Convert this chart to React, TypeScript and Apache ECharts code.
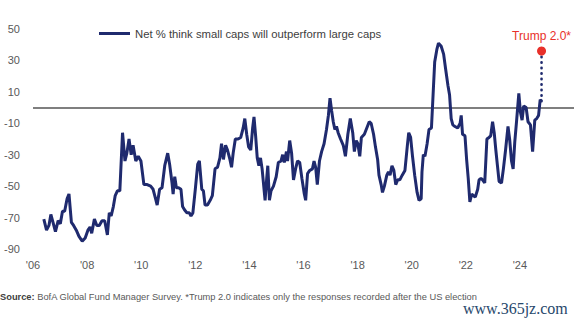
import React, { useEffect, useRef } from "react";
import * as echarts from "echarts";

const seriesName = "Net % think small caps will outperform large caps";

const years = [
  2006.40, 2006.50, 2006.59, 2006.66, 2006.74, 2006.83, 2006.93, 2007.01, 2007.09, 2007.17,
  2007.26, 2007.33, 2007.42, 2007.50, 2007.60, 2007.70, 2007.82, 2007.93, 2008.03, 2008.11,
  2008.17, 2008.27, 2008.36, 2008.45, 2008.55, 2008.65, 2008.75, 2008.82, 2008.89, 2008.97,
  2009.04, 2009.12, 2009.21, 2009.31, 2009.40, 2009.47, 2009.55, 2009.63, 2009.70, 2009.80,
  2009.89, 2009.99, 2010.10, 2010.22, 2010.35, 2010.44, 2010.53, 2010.59, 2010.68, 2010.77,
  2010.87, 2010.98, 2011.05, 2011.14, 2011.18, 2011.24, 2011.30, 2011.38, 2011.47, 2011.53,
  2011.60, 2011.69, 2011.78, 2011.84, 2011.91, 2012.00, 2012.09, 2012.15, 2012.24, 2012.30,
  2012.36, 2012.45, 2012.55, 2012.63, 2012.73, 2012.82, 2012.91, 2012.97, 2013.04, 2013.12,
  2013.19, 2013.28, 2013.34, 2013.40, 2013.48, 2013.58, 2013.68, 2013.77, 2013.83, 2013.90,
  2013.97, 2014.05, 2014.12, 2014.17, 2014.23, 2014.29, 2014.35, 2014.41, 2014.47, 2014.53,
  2014.58, 2014.64, 2014.68, 2014.74, 2014.80, 2014.89, 2014.99, 2015.07, 2015.17, 2015.23,
  2015.29, 2015.37, 2015.41, 2015.49, 2015.56, 2015.63, 2015.72, 2015.78, 2015.86, 2015.94,
  2016.03, 2016.08, 2016.15, 2016.23, 2016.33, 2016.39, 2016.45, 2016.51, 2016.59, 2016.67,
  2016.76, 2016.85, 2016.92, 2016.98, 2017.04, 2017.10, 2017.16, 2017.22, 2017.28, 2017.37,
  2017.47, 2017.55, 2017.64, 2017.73, 2017.82, 2017.88, 2017.95, 2018.01, 2018.08, 2018.14,
  2018.25, 2018.34, 2018.43, 2018.50, 2018.59, 2018.66, 2018.74, 2018.79, 2018.87, 2018.92,
  2018.99, 2019.08, 2019.14, 2019.20, 2019.27, 2019.34, 2019.41, 2019.48, 2019.56, 2019.65,
  2019.75, 2019.84, 2019.89, 2019.96, 2020.03, 2020.11, 2020.20, 2020.27, 2020.35, 2020.38,
  2020.43, 2020.49, 2020.57, 2020.64, 2020.73, 2020.79, 2020.85, 2020.93, 2020.99, 2021.09,
  2021.18, 2021.25, 2021.34, 2021.40, 2021.46, 2021.52, 2021.60, 2021.70, 2021.79, 2021.83,
  2021.88, 2021.97, 2022.03, 2022.09, 2022.15, 2022.22, 2022.27, 2022.35, 2022.44, 2022.49,
  2022.56, 2022.62, 2022.70, 2022.78, 2022.86, 2022.92, 2022.99, 2023.05, 2023.11, 2023.17,
  2023.23, 2023.32, 2023.39, 2023.47, 2023.56, 2023.62, 2023.69, 2023.75, 2023.81, 2023.88,
  2023.96, 2024.02, 2024.08, 2024.14, 2024.23, 2024.30, 2024.39, 2024.47, 2024.55, 2024.62,
  2024.69, 2024.75, 2024.80,
];

const netPct = [
  -71, -78, -75, -68, -73, -79, -72, -74, -66, -66,
  -58, -55, -73, -75, -78, -82, -85, -83, -78, -76,
  -80, -71, -75, -75, -72, -72, -81, -67, -69, -63,
  -56, -53, -53, -16, -34, -29, -20, -30, -24, -34,
  -31, -34, -49, -49, -50, -52, -58, -62, -52, -51,
  -37, -29, -36, -48, -55, -44, -51, -51, -52, -63,
  -65, -67, -67, -69, -67, -52, -36, -34, -52, -53,
  -62, -62, -59, -56, -39, -38, -32, -23, -33, -24,
  -27, -33, -38, -29, -20, -20, -19, -13, -7, -17,
  -25, -27, -13, -6, -18, -32, -37, -32, -39, -50,
  -59, -45, -37, -59, -53, -50, -44, -35, -34, -30,
  -35, -28, -34, -21, -29, -46, -38, -34, -35, -45,
  -55, -59, -42, -40, -39, -34, -38, -49, -34, -28,
  -23, -14, -5, 6, -2, -9, -14, -12, -16, -20,
  -24, -31, -17, -7, -16, -28, -21, -23, -31, -19,
  -17, -13, -9, -10, -17, -25, -33, -43, -49, -54,
  -50, -43, -41, -43, -37, -40, -49, -46, -46, -43,
  -40, -24, -16, -19, -31, -43, -54, -59, -58, -41,
  -30, -31, -23, -14, -13, 8, 29, 37, 41, 39,
  34, 25, 14, 8, -7, -11, -12, -13, -10, -5,
  -17, -18, -33, -45, -60, -55, -56, -57, -52, -46,
  -45, -46, -48, -20, -19, -18, -9, -16, -27, -37,
  -47, -48, -39, -27, -12, -20, -34, -39, -22, -8,
  9, -3, -8, 1, 0, -9, -11, -28, -8, -7,
  -5, 5, 4,
];

const trumpLabel = "Trump 2.0*";
const trumpYear = 2024.8;
const trumpValue = 36;
const lastValue = 4;

const sourceText =
  "BofA Global Fund Manager Survey. *Trump 2.0 indicates only the responses recorded after the US election";
const watermark = "www.365jz.com";

const NAVY = "#1f2a6e";
const RED = "#e8302a";
const FONT = "Liberation Sans, Arial, sans-serif";

export default function App() {
  const ref = useRef<HTMLDivElement>(null);
  useEffect(() => {
    document.body.style.margin = "0";
    if (!ref.current) return;
    const chart = echarts.init(ref.current, null, { renderer: "svg" });
    const pairs = years.map((y, i) => [y, netPct[i]]);
    chart.setOption({
      animation: false,
      textStyle: { fontFamily: FONT },
      grid: { left: 33, right: 0, top: 29, bottom: 77 },
      legend: {
        data: [seriesName],
        left: 94,
        top: 23,
        itemWidth: 31,
        itemHeight: 3,
        icon: "rect",
        textStyle: { fontSize: 11.3, color: "#404040" },
      },
      xAxis: {
        type: "value",
        min: 2006,
        max: 2026,
        interval: 2,
        axisLine: { show: false },
        axisTick: { show: false },
        splitLine: { show: false },
        axisLabel: {
          color: "#595959",
          fontSize: 11,
          margin: 10,
          formatter: (v: number) => (v >= 2026 ? "" : "'" + String(v).slice(2)),
        },
      },
      yAxis: {
        type: "value",
        min: -90,
        max: 50,
        interval: 20,
        axisLine: { show: false },
        axisTick: { show: false },
        splitLine: { show: false },
        axisLabel: { color: "#595959", fontSize: 11, margin: 13 },
      },
      series: [
        {
          name: seriesName,
          type: "line",
          data: pairs,
          symbol: "none",
          color: NAVY,
          lineStyle: { color: NAVY, width: 3 },
          z: 3,
          markLine: {
            silent: true,
            symbol: "none",
            label: { show: false },
            lineStyle: { color: "#7f7f7f", width: 2, type: "solid" },
            data: [{ yAxis: 0 }],
            z: 2,
          },
        },
        {
          type: "line",
          data: [
            [trumpYear, lastValue],
            [trumpYear, trumpValue],
          ],
          symbol: "none",
          lineStyle: { color: NAVY, width: 2.6, type: [0.5, 5], cap: "round" },
          z: 3,
        },
        {
          type: "scatter",
          data: [[trumpYear, trumpValue]],
          symbolSize: 9,
          itemStyle: { color: RED, opacity: 1 },
          z: 4,
          label: {
            show: true,
            position: "top",
            distance: 5,
            formatter: trumpLabel,
            color: RED,
            fontSize: 12,
          },
        },
      ],
      graphic: [
        {
          type: "text",
          left: 0,
          top: 292,
          style: {
            text: "{b|Source:} " + sourceText,
            fill: "#595959",
            fontSize: 9.3,
            fontFamily: FONT,
            rich: {
              b: { fontWeight: "bold", fill: "#404040", fontSize: 9.3, fontFamily: FONT },
            },
          },
        },
        {
          type: "text",
          left: 463,
          top: 300,
          style: {
            text: watermark,
            fill: "#27476b",
            fontSize: 16,
            fontFamily: "Liberation Serif, Times New Roman, serif",
          },
        },
      ],
    });
    return () => chart.dispose();
  }, []);
  return <div ref={ref} style={{ width: 577, height: 326 }} />;
}
